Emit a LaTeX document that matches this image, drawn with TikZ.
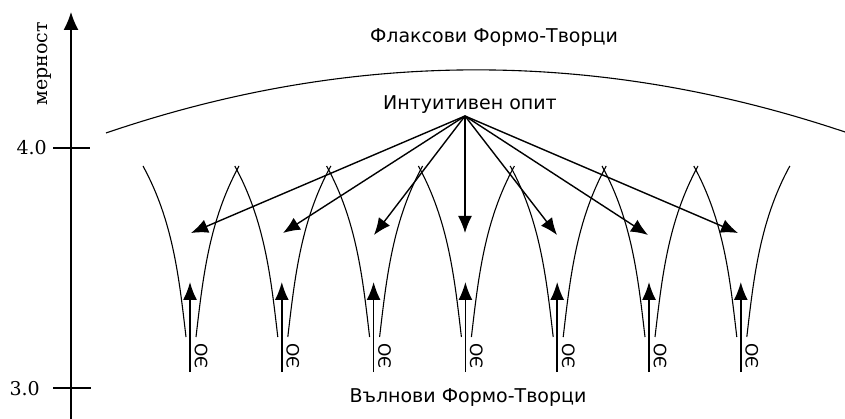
\documentclass[tikz,border=0pt]{standalone}
\usepackage{fontspec}
\setmainfont{DejaVu Sans}
\newfontfamily\axisfont{DejaVu Serif}
\usetikzlibrary{arrows.meta}
\begin{document}
\begin{tikzpicture}[x=1pt,y=-1pt,
  curve/.style={line width=1.1pt},
  hubarrow/.style={line width=1.4pt,-{Latex[length=17pt,width=14pt]}},
  uparrow/.style={line width=1.6pt,-{Latex[length=18pt,width=14pt]}},
  axisline/.style={line width=1.3pt},
  lbl/.style={font=\fontsize{19}{22}\selectfont, inner sep=0pt},
  oelbl/.style={font=\fontsize{17}{20}\selectfont, inner sep=0pt, rotate=-90},
  axlbl/.style={font=\axisfont\fontsize{19}{22}\selectfont, inner sep=0pt}]
\useasboundingbox (0,0) rectangle (845,419);
% axis
\coordinate (axb) at (71,419);
\coordinate (axt) at (71,12);
\draw[axisline,-{Latex[length=18pt,width=15pt]}] (axb) -- (axt);
\node[axlbl, rotate=90] (mern) at (44,64) {мерност};
\coordinate (t4a) at (53,148); \coordinate (t4b) at (90,148);
\draw[axisline] (t4a) -- (t4b);
\node[axlbl, anchor=east] (v4) at (47,148) {4.0};
\coordinate (t3a) at (53,388); \coordinate (t3b) at (91,388);
\draw[axisline] (t3a) -- (t3b);
\node[axlbl, anchor=east] (v3) at (40,389) {3.0};
% top arc
\coordinate (arcL) at (106,133);
\coordinate (arcR) at (845,132);
\draw[curve] (arcL) .. controls (352,49) and (598,49) .. (arcR);
% texts
\node[lbl] (flax) at (494,38) {Флаксови Формо-Творци};
\node[lbl] (intu) at (470,105) {Интуитивен опит};
\node[lbl] (valn) at (468,398) {Вълнови Формо-Творци};
\coordinate (hub) at (465,116);
% columns
\foreach \i in {0,...,6} {
  \pgfmathsetmacro\c{190+91.8*\i}
  \draw[curve] ({\c-4},337) .. controls ({\c-11},277) and ({\c-17},221) .. ({\c-47},166);
  \draw[curve] ({\c+6},337) .. controls ({\c+13},277) and ({\c+19},221) .. ({\c+49},166);
  \coordinate (b\i) at (\c,372);
  \coordinate (t\i) at (\c,282);
  \draw[uparrow] (b\i) -- (t\i);
  \node[oelbl] (oe\i) at ({\c+11},356) {ОЄ};
}
% hub arrows
\foreach \i/\x/\y in {0/191/233,1/283/233,2/374/235,3/465/233,4/557/235,5/648/235,6/738/233} {
  \coordinate (g\i) at (\x,\y);
  \draw[hubarrow] (hub) -- (g\i);
}
\end{tikzpicture}
\end{document}
